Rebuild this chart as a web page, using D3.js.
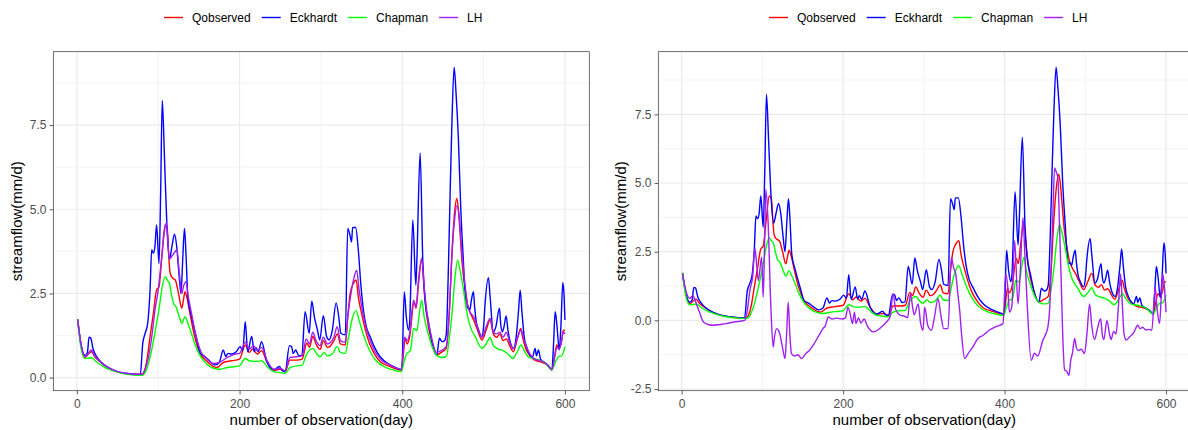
<!DOCTYPE html>
<html>
<head>
<meta charset="utf-8">
<script src="https://cdn.jsdelivr.net/npm/d3@7"></script>
<style>
  body { margin: 0; background: #fff; }
  svg { display: block; font-family: "Liberation Sans", Arial, sans-serif; }
</style>
</head>
<body>
<div class="draw"></div>
<script>
// legend / series
const seriesNames = ["Qobserved", "Eckhardt", "Chapman", "LH"];
const seriesColors = ["#FF0000", "#0000FF", "#00FF00", "#A020F0"];

// tick labels
const xTicks = [0, 200, 400, 600];
const yTicksLeft = [0, 2.5, 5, 7.5];
const yTicksRight = [-2.5, 0, 2.5, 5, 7.5];

// [day, mm/d]
const qobserved = [[1,1.73],[5,1.0],[10,0.6],[14,0.7],[18,0.77],[22,0.62],[30,0.45],[40,0.27],[50,0.17],[60,0.12],[70,0.1],[80,0.1],[83,0.2],[86,0.5],[90,1.22],[94,1.9],[98,2.6],[101,2.7],[104.5,3.59],[108.5,4.53],[111,4.45],[113,3.6],[114.7,3.1],[118,2.95],[121,2.9],[125,2.5],[129,2.06],[131,2.3],[133,2.55],[136,2.3],[139,1.91],[145,1.2],[151.6,0.72],[160,0.48],[168,0.33],[172,0.3],[180,0.45],[190,0.5],[200,0.55],[207,0.97],[212,0.75],[216,0.85],[222,0.7],[227,0.8],[234,0.45],[242,0.22],[250,0.25],[256,0.18],[262,0.52],[270,0.52],[277,0.55],[282.7,1.02],[286,0.9],[290,1.22],[294,1.0],[299,0.84],[303,1.1],[308,0.9],[312,0.95],[316,1.1],[320.4,1.3],[324,1.0],[330,0.97],[333,1.8],[336,2.5],[340,2.8],[343.4,2.9],[346,2.4],[350,1.91],[356,1.3],[360,1.0],[366,0.7],[373,0.47],[385,0.33],[399,0.23],[401,0.6],[403.6,1.17],[406,1.0],[409,1.2],[414.6,2.25],[417,2.06],[420,2.8],[424,3.52],[427,2.6],[430,1.86],[436,1.1],[442,0.67],[448,0.75],[454,0.87],[458,2.0],[461,3.64],[464,4.8],[467,5.32],[469,5.0],[471,4.33],[474,3.3],[477.3,2.65],[480,2.2],[483,1.96],[488,1.7],[492,1.45],[498,1.12],[503,1.4],[508,1.71],[512,1.3],[516,1.2],[520,1.3],[524,1.1],[528,1.15],[532,0.95],[536.6,0.77],[541,1.1],[545.8,1.46],[548,1.2],[552,0.85],[557,0.65],[563,0.52],[570,0.47],[577,0.4],[584,0.23],[587,0.6],[590,0.97],[593,0.87],[596,1.1],[598,1.41],[600,1.4]];

const eckhardt = [[1,1.73],[5,1.0],[10,0.66],[13,0.75],[15,1.2],[17,1.18],[20,0.85],[25,0.6],[30,0.45],[40,0.28],[50,0.18],[60,0.13],[70,0.1],[78,0.09],[81,1.02],[84,1.32],[87,1.6],[90,2.6],[92,3.8],[94,3.7],[96,3.9],[98,4.53],[101,3.39],[103,5.5],[105,8.23],[107.7,6.55],[110.6,4.58],[114,3.54],[116.8,3.88],[120,4.26],[122.7,3.9],[125.8,3.0],[128,2.5],[130.3,3.59],[132.3,4.43],[134.3,3.59],[136.4,2.4],[141,1.81],[147.5,1.12],[151.6,0.72],[157.7,0.62],[162,0.52],[170,0.38],[175,0.45],[180,0.82],[183,0.63],[186,0.72],[190,0.7],[196,0.77],[200.7,0.92],[204,0.8],[207,1.66],[210,0.77],[215,1.22],[218,0.77],[220,0.9],[223,0.77],[227,1.07],[233.6,0.47],[241.7,0.23],[249,0.33],[252,0.22],[256,0.18],[261.4,0.95],[264,0.92],[266,0.72],[269,0.82],[273,0.65],[276.6,0.67],[280.6,1.96],[285.6,1.32],[288.8,2.27],[292,1.8],[295.8,1.41],[298.6,1.12],[303,1.84],[307,1.22],[310,1.12],[314,1.4],[318.7,2.22],[322,1.8],[324.5,1.32],[330,1.27],[333,4.43],[336,4.2],[337.7,4.03],[339,4.46],[342.7,4.46],[346,3.79],[349,2.8],[352.3,2.0],[356,1.5],[360.5,1.22],[366,0.9],[372.8,0.62],[385,0.38],[392,0.3],[399.5,0.23],[402.5,2.55],[405,1.8],[407.6,1.41],[409,1.6],[413,4.68],[416.7,2.75],[418,3.5],[422,6.67],[425.3,3.44],[428,2.3],[432.2,1.66],[437,1.0],[442.5,0.67],[445.7,1.17],[449,1.07],[452,1.1],[454,1.27],[457,3.5],[459,5.61],[461,7.5],[463.8,9.22],[466,8.5],[469,7.1],[472,5.0],[475.2,3.44],[477,2.6],[479.4,2.06],[481,2.1],[483,2.0],[485,2.3],[487.5,2.55],[489,2.1],[491,1.66],[494,1.4],[497.8,1.22],[500,1.5],[502,2.25],[506,2.97],[508,2.4],[512,1.36],[515,1.5],[519.5,2.06],[521,1.6],[523,1.36],[525,1.5],[527.7,1.83],[530,1.4],[532.6,1.07],[537,0.87],[540,1.2],[543,2.0],[545,2.6],[547,2.0],[550,1.2],[553,0.9],[557,0.67],[560,0.6],[563.4,0.87],[565,0.65],[567.5,0.82],[570,0.55],[575,0.45],[580,0.35],[584,0.23],[586,1.0],[588,1.96],[590,1.6],[593,0.82],[595,1.5],[597.4,2.83],[599,2.4],[600,1.71]];

const chapman = [[1,1.73],[5,0.9],[10,0.57],[15,0.58],[18,0.59],[25,0.45],[35,0.3],[45,0.2],[55,0.13],[70,0.08],[80,0.07],[85,0.2],[90,0.6],[95,1.2],[98,1.61],[102,2.2],[105,2.7],[108.5,3.0],[111,2.9],[114,2.78],[116,2.5],[119,2.2],[122,2.1],[126,1.8],[129,1.61],[133,1.81],[136,1.65],[140,1.38],[145,1.0],[152,0.63],[160,0.4],[168,0.28],[175,0.25],[185,0.3],[195,0.33],[200,0.35],[207,0.57],[212,0.5],[220,0.48],[227,0.5],[235,0.3],[242,0.18],[250,0.15],[256,0.13],[262,0.3],[270,0.35],[277,0.37],[282,0.67],[290,0.87],[295,0.7],[299,0.62],[304,0.75],[308,0.65],[314,0.7],[320,0.92],[324,0.75],[330,0.72],[334,1.2],[338,1.7],[343.4,1.99],[347,1.7],[352,1.3],[360,0.8],[368,0.5],[380,0.3],[390,0.22],[399,0.18],[402,0.45],[405.6,0.72],[410,0.8],[414,1.46],[418,1.4],[421,1.9],[424,2.3],[427,1.8],[432,1.3],[437,0.9],[442,0.67],[448,0.6],[454,0.62],[458,1.2],[461,1.86],[465,3.0],[468,3.49],[471,3.2],[475,2.65],[479,2.0],[483,1.56],[490,1.2],[498,0.87],[503,1.0],[508,1.19],[512,0.95],[518,0.85],[524,0.8],[530,0.7],[536,0.57],[541,0.75],[546,0.97],[550,0.8],[556,0.6],[565,0.55],[575,0.45],[584,0.23],[588,0.45],[592,0.62],[596,0.65],[600,0.92]];

// LH, left plot
const lhLeft = [[1,1.73],[5,1.0],[10,0.62],[14,0.72],[18,0.82],[22,0.65],[30,0.46],[40,0.28],[50,0.18],[60,0.13],[70,0.1],[80,0.1],[84,0.25],[88,0.6],[92,1.2],[96,2.0],[100,2.6],[104,3.5],[108,4.4],[110,4.6],[112,4.0],[113.5,3.51],[118,3.65],[123,3.79],[126,3.1],[129,2.5],[131,2.7],[134,2.85],[137,2.4],[141,1.9],[146,1.3],[152,0.8],[160,0.55],[168,0.42],[175,0.45],[185,0.6],[195,0.7],[200,0.72],[207,1.05],[212,0.85],[217,0.95],[222,0.8],[227,0.9],[234,0.5],[242,0.25],[250,0.28],[256,0.2],[262,0.6],[270,0.62],[277,0.65],[282,1.15],[286,1.0],[290,1.35],[294,1.1],[299,0.95],[303,1.2],[308,1.0],[312,1.05],[316,1.2],[320,1.51],[324,1.1],[330,1.05],[333,1.8],[337,2.5],[341,3.0],[344,3.19],[347,2.6],[351,2.0],[356,1.45],[360,1.15],[366,0.8],[373,0.55],[385,0.38],[399,0.25],[403,1.2],[406,1.1],[409,1.3],[414,2.3],[417,2.1],[420,2.9],[424,3.55],[427,2.7],[430,2.0],[436,1.2],[442,0.75],[448,0.8],[454,0.92],[458,2.0],[461,3.6],[464,4.6],[467,5.1],[470,4.8],[473,3.8],[477,2.8],[480,2.2],[483,1.96],[488,1.8],[492,1.55],[498,1.2],[503,1.5],[508,1.76],[512,1.35],[516,1.3],[520,1.35],[524,1.2],[528,1.35],[532,1.05],[537,0.85],[541,1.15],[546,1.4],[550,1.1],[557,0.7],[563,0.55],[570,0.5],[577,0.42],[584,0.25],[587,0.55],[590,0.9],[593,0.85],[596,1.1],[598,1.36],[600,1.3]];

// LH, right plot
const lhRight = [[1,1.69],[5,1.1],[10,0.8],[14,0.9],[17,0.7],[22,0.3],[27,-0.06],[33,-0.15],[39,-0.18],[47,-0.15],[55,-0.12],[65,-0.06],[78,0],[81,0.3],[84.5,1.09],[88,1.6],[90.7,2.63],[93,2.0],[95,1.45],[99,2.3],[101,0.85],[102.5,2.5],[104.3,4.77],[107,3.62],[110.5,0.48],[113.4,-0.97],[115,-0.6],[117.5,-0.3],[119.5,-0.35],[121.6,-0.5],[125,-1.0],[128,-1.39],[130,-0.5],[132,0.66],[134,-0.5],[136,-1.21],[140,-1.3],[144,-1.25],[148.5,-1.39],[154,-1.2],[158,-1.1],[163,-0.9],[170,-0.55],[175,-0.3],[178,-0.2],[181.5,0.12],[186,0.05],[192,0.08],[199,0.05],[203,0.1],[206,0.48],[209,0.2],[211.6,-0.12],[214,0.3],[216,-0.12],[219,0.1],[222,-0.1],[226,0.05],[230,-0.2],[237,-0.42],[243,-0.35],[249,-0.2],[254,-0.05],[258,0.12],[262,0.97],[265,0.4],[270,0.2],[276,0.15],[280,0.1],[283.4,0.97],[286,0.5],[288,0.2],[293,0.6],[296,-0.1],[299,-0.36],[301,0.48],[305,-0.2],[309.4,-0.36],[313,0.1],[317.6,0.79],[321,0.2],[324.6,-0.3],[330,-0.3],[334,2.29],[337,1.9],[339.5,1.69],[342,1.0],[344.4,0.36],[347,-0.6],[350.6,-1.39],[355,-1.2],[360,-1.0],[367,-0.66],[373,-0.55],[381,-0.36],[390,-0.22],[398,-0.12],[401.4,1.69],[404,1.2],[406,0.3],[409,0.5],[412.5,2.9],[416.6,0.6],[419,1.5],[422.8,3.74],[425,2.5],[428,0.6],[433,-1.45],[437,-1.2],[441,-1.3],[447.5,-0.72],[451,-0.5],[453.7,-0.24],[456,0.5],[458,2.17],[460,4.0],[462,5.55],[464,5.4],[466,5.2],[468,3.5],[470,1.57],[472,-0.5],[474.4,-1.81],[477,-1.85],[479.7,-2.0],[482,-1.45],[484,-1.2],[486.8,-0.66],[489,-1.0],[491,-1.1],[495,-1.05],[499,-1.21],[502,-0.5],[505.3,0.6],[508,-0.2],[511.5,-0.7],[515,-0.3],[519,0.06],[521,-0.5],[523,-0.7],[526.8,0],[530,-0.5],[532,-0.7],[535,-0.4],[538,-0.5],[541,0.5],[543.7,1.69],[546,0.5],[548,-0.5],[550.7,-0.72],[555,-0.6],[560,-0.45],[565,-0.18],[568,-0.3],[571,-0.25],[575,-0.35],[579,-0.33],[582.4,-0.36],[586.6,1.21],[589,0.4],[592,-0.12],[594,0.8],[596,1.69],[598,1.2],[600,0.3]];

const width = 1188, height = 430;

const svg = d3.select(".draw")
    .append("svg")
    .attr("width", width)
    .attr("height", height);

// ggplot-like 5% expansion
function expand(ext) {
  const pad = (ext[1] - ext[0]) * 0.05;
  return [ext[0] - pad, ext[1] + pad];
}

function drawPanel(p) {
  const all = p.series.flat();
  const x = d3.scaleLinear()
      .domain(expand(d3.extent(all, d => d[0])))
      .range([p.left, p.right]);
  const y = d3.scaleLinear()
      .domain(expand(d3.extent(all, d => d[1])))
      .range([p.bottom, p.top]);

  const g = svg.append("g");

  // minor grid = midpoints between majors
  const mid = t => t.slice(1).map((v, i) => (v + t[i]) / 2);
  const xMinor = mid(xTicks).filter(v => v >= x.domain()[0] && v <= x.domain()[1]);
  const yStep = p.yTicks[1] - p.yTicks[0];
  const yMinor = mid([p.yTicks[0] - yStep, ...p.yTicks, p.yTicks[p.yTicks.length - 1] + yStep])
      .filter(v => v >= y.domain()[0] && v <= y.domain()[1]);

  const grid = g.append("g").attr("stroke", "#EBEBEB");
  grid.selectAll(".ymin").data(yMinor).join("line")
      .attr("x1", p.left).attr("x2", p.right)
      .attr("y1", d => y(d)).attr("y2", d => y(d))
      .attr("stroke-width", 0.6);
  grid.selectAll(".xmin").data(xMinor).join("line")
      .attr("y1", p.top).attr("y2", p.bottom)
      .attr("x1", d => x(d)).attr("x2", d => x(d))
      .attr("stroke-width", 0.6);
  grid.selectAll(".ymaj").data(p.yTicks).join("line")
      .attr("x1", p.left).attr("x2", p.right)
      .attr("y1", d => y(d)).attr("y2", d => y(d))
      .attr("stroke-width", 1.2);
  grid.selectAll(".xmaj").data(xTicks).join("line")
      .attr("y1", p.top).attr("y2", p.bottom)
      .attr("x1", d => x(d)).attr("x2", d => x(d))
      .attr("stroke-width", 1.2);

  // lines
  const line = d3.line()
      .curve(d3.curveMonotoneX)
      .x(d => x(d[0]))
      .y(d => y(d[1]));

  g.append("g")
      .selectAll("path")
      .data(p.series)
      .join("path")
      .attr("fill", "none")
      .attr("stroke", (d, i) => seriesColors[i])
      .attr("stroke-width", 1.4)
      .attr("stroke-linejoin", "round")
      .attr("d", line);

  // border
  g.append("rect")
      .attr("x", p.left).attr("y", p.top)
      .attr("width", p.right - p.left).attr("height", p.bottom - p.top)
      .attr("fill", "none")
      .attr("stroke", "#333333")
      .attr("stroke-width", 0.7);

  // axes
  const xAxis = d3.axisBottom(x).tickValues(xTicks).tickSize(3.75).tickPadding(5).tickFormat(d3.format("d"));
  const yAxis = d3.axisLeft(y).tickValues(p.yTicks).tickSize(3.75).tickPadding(3).tickFormat(d3.format(".1f"));

  const xg = g.append("g").attr("transform", `translate(0, ${p.bottom})`).call(xAxis);
  const yg = g.append("g").attr("transform", `translate(${p.left}, 0)`).call(yAxis);
  [xg, yg].forEach(a => {
    a.select(".domain").remove();
    a.selectAll(".tick line").attr("stroke", "#333333").attr("stroke-width", 0.8);
    a.selectAll(".tick text")
        .attr("fill", "#4D4D4D")
        .attr("font-size", 12)
        .attr("font-family", "Liberation Sans, Arial, sans-serif");
  });
  yg.selectAll(".tick text").text(d => d3.format(".1f")(d).replace("−", "-"));

  // titles
  g.append("text")
      .attr("x", (p.left + p.right) / 2)
      .attr("y", 425)
      .attr("text-anchor", "middle")
      .attr("font-size", 15)
      .text("number of observation(day)");
  g.append("text")
      .attr("transform", `translate(${p.yTitleX}, ${(p.top + p.bottom) / 2}) rotate(-90)`)
      .attr("text-anchor", "middle")
      .attr("font-size", 15)
      .text("streamflow(mm/d)");

  // legend
  const lg = g.append("g").attr("transform", `translate(${p.left + 110.7}, 17.5)`);
  let cx = 0;
  seriesNames.forEach((name, i) => {
    lg.append("line")
        .attr("x1", cx).attr("x2", cx + 19)
        .attr("y1", 0).attr("y2", 0)
        .attr("stroke", seriesColors[i])
        .attr("stroke-width", 1.4);
    const t = lg.append("text")
        .attr("x", cx + 28)
        .attr("y", 4.3)
        .attr("font-size", 12)
        .text(name);
    cx += 28 + t.node().getComputedTextLength() + 11;
  });
}

drawPanel({
  left: 53.3, right: 589.3, top: 51.7, bottom: 390.7,
  yTicks: yTicksLeft, yTitleX: 22,
  series: [qobserved, eckhardt, chapman, lhLeft]
});

drawPanel({
  left: 658.3, right: 1190.2, top: 51.7, bottom: 390.7,
  yTicks: yTicksRight, yTitleX: 626,
  series: [qobserved, eckhardt, chapman, lhRight]
});
</script>
</body>
</html>
